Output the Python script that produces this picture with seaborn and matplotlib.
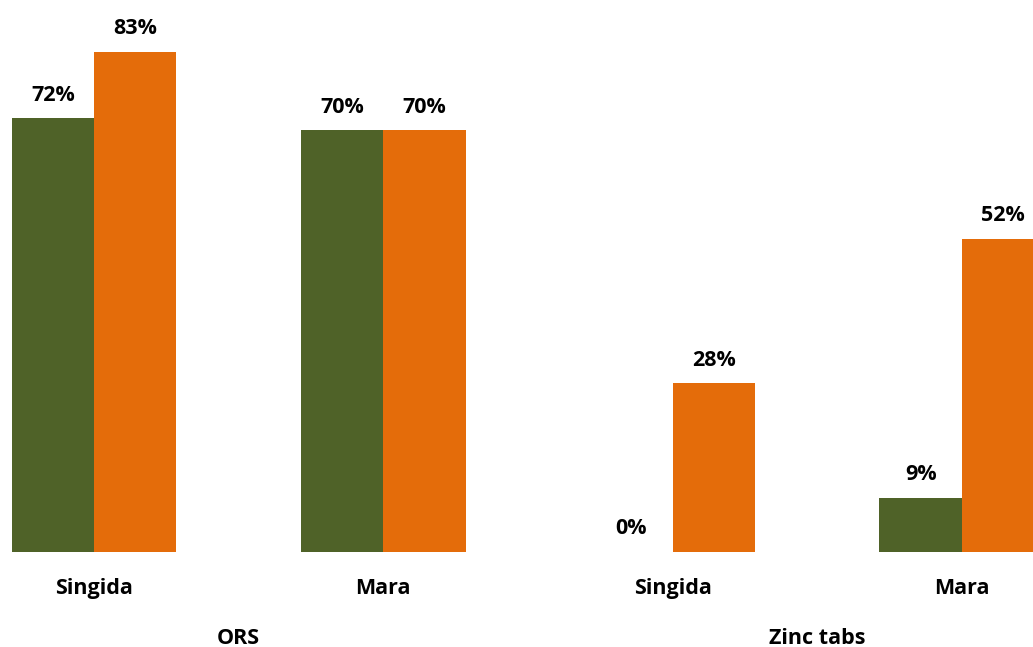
import pandas as pd
import matplotlib
matplotlib.use("Agg")
import matplotlib.pyplot as plt
import seaborn as sns

# chart values
groups = ["ORS", "ORS", "Zinc tabs", "Zinc tabs"]
sites = ["Singida", "Mara", "Singida", "Mara"]
series_1 = [72, 70, 0, 9]
series_2 = [83, 70, 28, 52]
colors = ["#4F6228", "#E46C0A"]

rows = []
for i in range(len(sites)):
    key = f"{groups[i]} {sites[i]}"
    rows.append({"cat": key, "series": "Series 1", "value": series_1[i]})
    rows.append({"cat": key, "series": "Series 2", "value": series_2[i]})
data = pd.DataFrame(rows)
order = [f"{g} {s}" for g, s in zip(groups, sites)]

sns.set_style("white")
plt.rcParams["font.family"] = ["Open Sans", "DejaVu Sans"]
plt.rcParams["text.color"] = "black"
plt.rcParams["xtick.color"] = "black"

fig = plt.figure(figsize=(10.33, 6.47), dpi=100)
ax = fig.add_axes([0, 95 / 647, 1, 552 / 647])

sns.barplot(data=data, x="cat", y="value", hue="series", order=order,
            palette=colors, width=0.57, gap=0, saturation=1, legend=False,
            edgecolor="none", ax=ax)

for cont in ax.containers:
    ax.bar_label(cont, fmt="%d%%", padding=9, fontsize=15.5, fontweight="bold",
                 color="black")

ax.set_xlim(-0.325, 3.246)
ax.set_ylim(0, 91.6)
ax.set_xticks(range(len(sites)))
ax.set_xticklabels(sites, fontsize=15.5, fontweight="bold", color="black")
ax.tick_params(axis="x", length=0, pad=19)
ax.set_yticks([])
ax.set_xlabel("")
ax.set_ylabel("")
for sp in ax.spines.values():
    sp.set_visible(False)

# group labels under the site labels
for x, g in [(0.5, "ORS"), (2.5, "Zinc tabs")]:
    ax.text(x, -86 / 552, g, transform=ax.get_xaxis_transform(),
            ha="center", va="center", fontsize=15.5, fontweight="bold",
            color="black")

fig.savefig("out.png", dpi=100)
